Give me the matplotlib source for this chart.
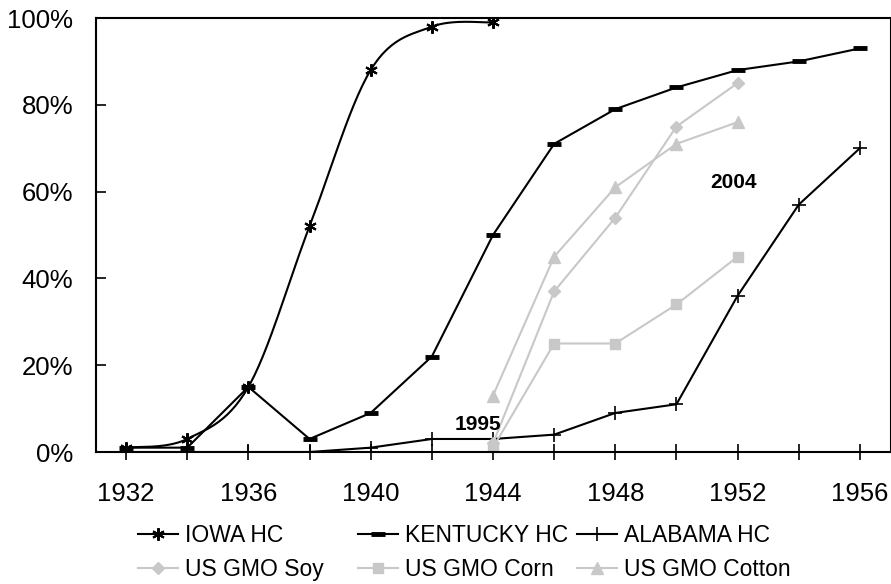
import matplotlib
matplotlib.use("Agg")
import matplotlib.pyplot as plt
import numpy as np
from matplotlib.ticker import FuncFormatter, MultipleLocator
from matplotlib.lines import Line2D

plt.rcParams['font.family'] = ['Liberation Sans', 'DejaVu Sans']

# hybrid corn adoption by state (percent of acreage)
iowa_years = [1932, 1934, 1936, 1938, 1940, 1942, 1944]
iowa_hc = [1, 3, 15, 52, 88, 98, 99]

kentucky_years = [1932, 1934, 1936, 1938, 1940, 1942, 1944, 1946, 1948, 1950, 1952, 1954, 1956]
kentucky_hc = [1, 1, 15, 3, 9, 22, 50, 71, 79, 84, 88, 90, 93]

alabama_years = [1932, 1934, 1936, 1938, 1940, 1942, 1944, 1946, 1948, 1950, 1952, 1954, 1956]
alabama_hc = [0, 0, 0, 0, 1, 3, 3, 4, 9, 11, 36, 57, 70]

# US GMO adoption 1995-2004, shifted onto the same axis (1995 -> 1944)
gmo_years = [1944, 1946, 1948, 1950, 1952]
gmo_soy = [2, 37, 54, 75, 85]
gmo_corn = [1, 25, 25, 34, 45]
gmo_cotton = [13, 45, 61, 71, 76]


def smooth(xs, ys, n=30):
    # bezier smoothing like the spreadsheet "smoothed line" option
    x = np.asarray(xs, float)
    y = np.asarray(ys, float)
    px = np.concatenate([[x[0]], x, [x[-1]]])
    py = np.concatenate([[y[0]], y, [y[-1]]])
    t = np.linspace(0, 1, n)
    outx, outy = [], []
    for i in range(1, len(px) - 2):
        x0, x1, x2, x3 = px[i - 1], px[i], px[i + 1], px[i + 2]
        y0, y1, y2, y3 = py[i - 1], py[i], py[i + 1], py[i + 2]
        cx1, cy1 = x1 + (x2 - x0) / 6, y1 + (y2 - y0) / 6
        cx2, cy2 = x2 - (x3 - x1) / 6, y2 - (y3 - y1) / 6
        bx = (1-t)**3*x1 + 3*(1-t)**2*t*cx1 + 3*(1-t)*t**2*cx2 + t**3*x2
        by = (1-t)**3*y1 + 3*(1-t)**2*t*cy1 + 3*(1-t)*t**2*cy2 + t**3*y2
        outx.extend(bx)
        outy.extend(by)
    return outx, outy


fig = plt.figure(figsize=(8.91, 5.84), dpi=100)
ax = fig.add_axes([95.5/891, 132/584, 795/891, 434/584])

gray = '#c8c8c8'
sx, sy = smooth(iowa_years, iowa_hc)
ax.plot(sx, sy, color='black', lw=1.5)
ax.plot(iowa_years, iowa_hc, ls='none', marker=(6, 2, 0), ms=9, mec='black', mew=1.5)
ax.plot(kentucky_years, kentucky_hc, color='black', lw=1.5, marker='_', ms=10, mew=3.5)
ax.plot(alabama_years, alabama_hc, color='black', lw=1.5, marker='+', ms=10, mew=1.2)
ax.plot(gmo_years, gmo_soy, color=gray, lw=1.5, marker='D', ms=6.5, mec=gray, mfc=gray)
ax.plot(gmo_years, gmo_corn, color=gray, lw=1.5, marker='s', ms=7, mec=gray, mfc=gray)
ax.plot(gmo_years, gmo_cotton, color=gray, lw=1.5, marker='^', ms=8, mec=gray, mfc=gray)

ax.text(1943.5, 6.4, '1995', fontsize=15, fontweight='bold', ha='center', va='center')
ax.text(1951.85, 62.2, '2004', fontsize=15, fontweight='bold', ha='center', va='center')

ax.set_xlim(1931, 1957)
ax.set_ylim(0, 100)
ax.xaxis.set_major_locator(MultipleLocator(2))
ax.xaxis.set_major_formatter(FuncFormatter(lambda v, p: '%d' % v if int(round(v)) % 4 == 0 else ''))
ax.yaxis.set_major_locator(MultipleLocator(20))
ax.yaxis.set_major_formatter(FuncFormatter(lambda v, p: '%d%%' % v))
ax.tick_params(axis='x', direction='inout', length=11, width=1.2, pad=16, labelsize=18.5)
ax.tick_params(axis='y', direction='in', length=7, width=1.2, pad=16, labelsize=18.5)
for s in ax.spines.values():
    s.set_linewidth(1.5)


# legend: three columns of two entries each
def h(color, marker, ms, mew):
    return Line2D([], [], color=color, lw=1.5, marker=marker, ms=ms, mew=mew, mec=color, mfc=color)


cols = [
    ([h('black', (6, 2, 0), 9, 1.5), h(gray, 'D', 6.5, 1)], ['IOWA HC', 'US GMO Soy'], 138),
    ([h('black', '_', 10, 3.5), h(gray, 's', 7, 1)], ['KENTUCKY HC', 'US GMO Corn'], 358),
    ([h('black', '+', 10, 1.2), h(gray, '^', 8, 1)], ['ALABAMA HC', 'US GMO Cotton'], 577),
]
for handles, labels, xpix in cols:
    fig.legend(handles, labels, loc='upper left', bbox_to_anchor=(xpix/891, 1 - 524/584),
               frameon=False, fontsize=16.5, handlelength=1.75, handletextpad=0.3,
               labelspacing=0.48, borderpad=0, borderaxespad=0)

fig.savefig('out.png', dpi=100)
